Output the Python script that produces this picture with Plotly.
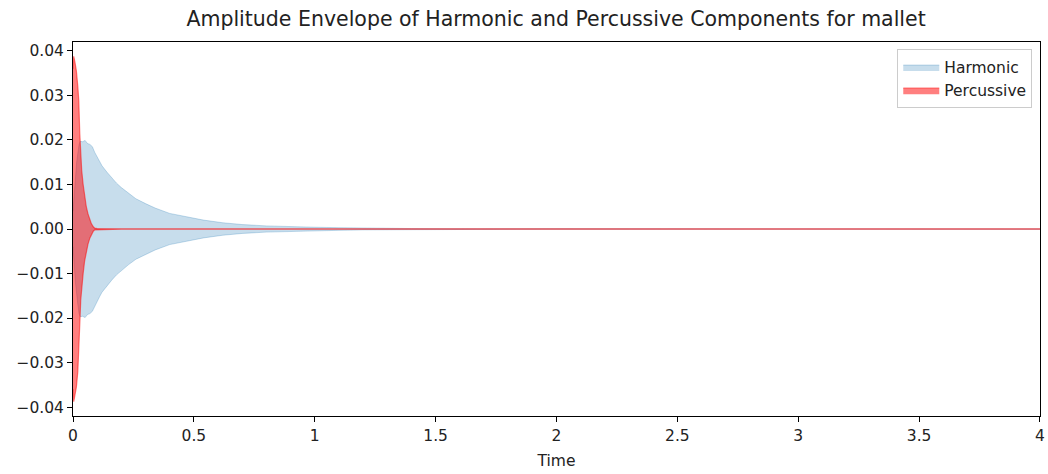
import plotly.graph_objects as go

# Harmonic amplitude envelope (seconds, amplitude)
h_time = [0, 0.005, 0.01, 0.015, 0.02, 0.025, 0.03, 0.04, 0.05, 0.06, 0.07, 0.08,
          0.09, 0.1, 0.11, 0.12, 0.14, 0.16, 0.18, 0.2, 0.23, 0.26, 0.3, 0.34,
          0.4, 0.46, 0.54, 0.62, 0.7, 0.8, 0.9, 1.0, 1.1, 1.2, 1.4, 1.7, 2.0, 4.0]
h_env = [0.004, 0.008, 0.012, 0.015, 0.017, 0.019, 0.0197, 0.0196, 0.0199, 0.0192,
         0.019, 0.0185, 0.0172, 0.0162, 0.0152, 0.0142, 0.0128, 0.0115, 0.0103,
         0.0093, 0.0080, 0.0068, 0.0057, 0.0047, 0.0035, 0.0028, 0.0020, 0.0014,
         0.0010, 0.0007, 0.0005, 0.0004, 0.0003, 0.0002, 0.0001, 0.00005, 0.00003,
         0.00002]

# Percussive amplitude envelope
p_time = [0, 0.003, 0.008, 0.014, 0.02, 0.024, 0.028, 0.032, 0.036, 0.042, 0.048,
          0.055, 0.062, 0.07, 0.076, 0.084, 0.09, 0.1, 0.2, 4.0]
p_env = [0.036, 0.0388, 0.0375, 0.0355, 0.032, 0.0288, 0.0215, 0.016, 0.0132,
         0.0100, 0.0072, 0.0050, 0.0034, 0.0020, 0.0012, 0.0005, 0.0002, 0.0001,
         0.00005, 0.00003]

x_ticks = [0, 0.5, 1, 1.5, 2, 2.5, 3, 3.5, 4]
x_tick_labels = ["0", "0.5", "1", "1.5", "2", "2.5", "3", "3.5", "4"]
y_ticks = [0.04, 0.03, 0.02, 0.01, 0.0, -0.01, -0.02, -0.03, -0.04]
y_tick_labels = ["0.04", "0.03", "0.02", "0.01", "0.00",
                 "\u22120.01", "\u22120.02", "\u22120.03", "\u22120.04"]


def band(t, env):
    xs = list(t) + list(reversed(t))
    ys = list(env) + [-v for v in reversed(env)]
    return xs, ys


fig = go.Figure()
hx, hy = band(h_time, h_env)
fig.add_trace(go.Scatter(
    x=hx, y=hy, fill="toself", mode="lines", name="Harmonic",
    fillcolor="rgba(31,119,180,0.25)",
    line=dict(color="rgba(31,119,180,0.25)", width=1),
))
px, py = band(p_time, p_env)
fig.add_trace(go.Scatter(
    x=px, y=py, fill="toself", mode="lines", name="Percussive",
    fillcolor="rgba(255,0,0,0.5)",
    line=dict(color="rgba(255,0,0,0.5)", width=1.2),
))

tick_size = 15.5
axis_common = dict(showline=True, linecolor="black", linewidth=1, mirror=True,
                   ticks="outside", ticklen=5, tickcolor="black", showgrid=False,
                   zeroline=False, automargin=False,
                   tickfont=dict(size=tick_size, color="#222"))

fig.update_layout(
    width=1048, height=474,
    margin=dict(l=73, r=8, t=42, b=58),
    paper_bgcolor="white", plot_bgcolor="white",
    font=dict(family="DejaVu Sans", size=tick_size, color="#222"),
    title=dict(text="Amplitude Envelope of Harmonic and Percussive Components for mallet",
               x=0.5306, xanchor="center", y=0.96, yanchor="middle", yref="container",
               font=dict(size=20.5, color="#222")),
    xaxis=dict(range=[0, 4.0001], tickvals=x_ticks, ticktext=x_tick_labels,
               title=dict(text="Time", font=dict(size=tick_size), standoff=11), **axis_common),
    yaxis=dict(range=[-0.042, 0.042], tickvals=y_ticks, ticktext=y_tick_labels,
               **axis_common),
    legend=dict(x=0.992, y=0.98, xanchor="right", yanchor="top",
                bgcolor="white", bordercolor="rgb(204,204,204)", borderwidth=1,
                itemwidth=36, font=dict(size=tick_size)),
    showlegend=True,
)

fig.write_html("out.html", config={"displayModeBar": False},
               post_script="document.body.style.margin='0';document.body.style.padding='0';")
